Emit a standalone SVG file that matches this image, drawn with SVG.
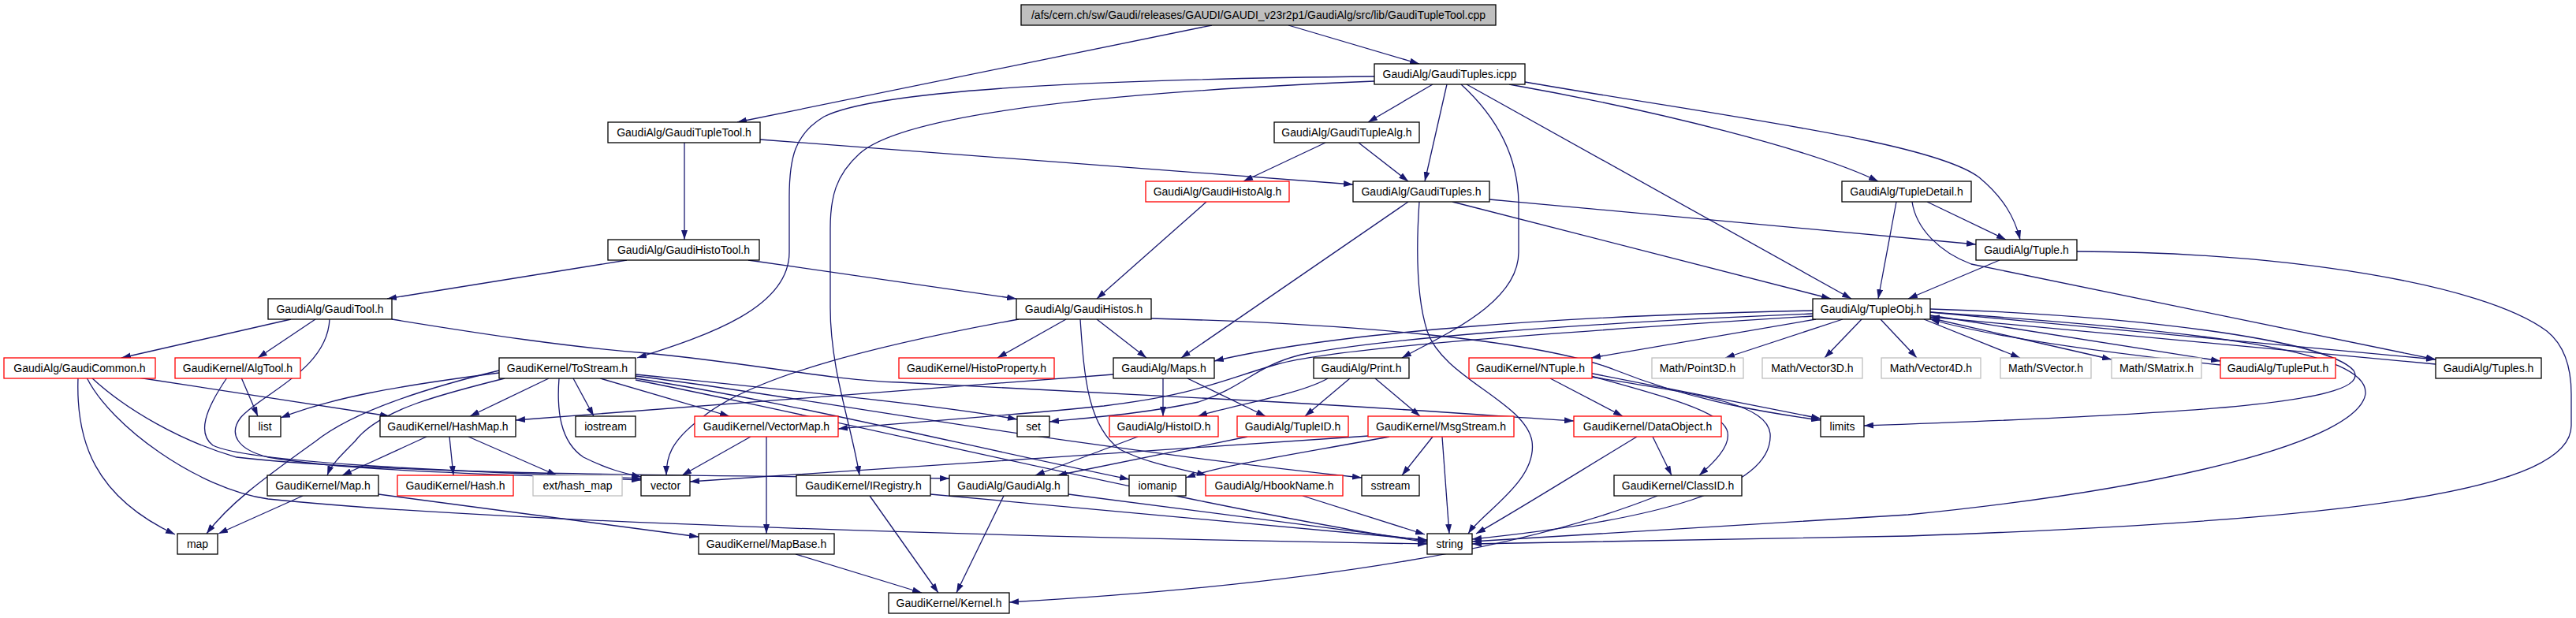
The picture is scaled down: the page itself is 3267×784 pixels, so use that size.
<svg xmlns="http://www.w3.org/2000/svg" width="3267" height="784" viewBox="0 0 3267 784">
<style>
.n rect{fill:#ffffff;stroke:#000000;stroke-width:1.3}
.n.red rect{stroke:#ff0000}
.n.grey rect{stroke:#bfbfbf}
.n.root rect{fill:#bfbfbf}
.n text{font-family:"Liberation Sans",Arial,sans-serif;font-size:14px;fill:#000000;text-anchor:middle}
#edges path{fill:none;stroke:#191970;stroke-width:1.3;marker-end:url(#ah)}
</style>
<defs>
<marker id="ah" markerUnits="userSpaceOnUse" markerWidth="12" markerHeight="8" refX="12" refY="4" orient="auto">
<path d="M0,0 L12,4 L0,8 z" fill="#191970"/>
</marker>
</defs>
<rect x="0" y="0" width="3267" height="784" fill="#ffffff"/>
<g id="edges">
<path d="M1537,32 L935,155"/>
<path d="M1634,32 L1800,81"/>
<path d="M1743,97 C1450,100 1120,110 1045,148 C1008,170 1001,200 1001,250 L1001,320 C1001,390 900,425 808,454"/>
<path d="M1743,103 C1450,115 1150,140 1090,195 C1060,222 1053,250 1053,290 L1053,390 C1053,470 1080,540 1090,603"/>
<path d="M1817,107 L1735,155"/>
<path d="M1835,107 L1807,230"/>
<path d="M1853,107 C1900,150 1926,200 1926,260 L1926,320 C1926,385 1830,425 1778,454"/>
<path d="M1860,107 L2348,379"/>
<path d="M1914,107 C2100,140 2300,190 2382,230"/>
<path d="M1934,104 C2200,150 2450,180 2510,225 C2540,250 2555,275 2562,304"/>
<path d="M868,181 L868,304"/>
<path d="M964,177 L1716,234"/>
<path d="M1681,181 L1577,230"/>
<path d="M1723,181 L1786,230"/>
<path d="M1530,256 L1391,379"/>
<path d="M1786,256 L1498,454"/>
<path d="M1800,256 C1797,300 1794,370 1810,420 C1830,480 1935,510 1943,560 C1950,610 1880,650 1862,677"/>
<path d="M1842,256 L2322,379"/>
<path d="M1889,253 L2506,310"/>
<path d="M2444,256 L2544,304"/>
<path d="M2405,256 L2382,379"/>
<path d="M2425,256 C2430,290 2460,320 2500,335 L3089,456"/>
<path d="M795,330 L491,379"/>
<path d="M949,330 L1289,379"/>
<path d="M2536,330 L2420,379"/>
<path d="M2634,319 C2900,320 3150,360 3230,420 C3255,440 3261,470 3261,500 L3261,540 C3261,620 3000,660 2420,680 L1867,690"/>
<path d="M369,405 L154,454"/>
<path d="M400,405 L327,454"/>
<path d="M418,405 C415,470 330,500 305,530 C290,550 300,570 340,580 C450,600 700,603 813,609"/>
<path d="M497,405 C620,425 720,440 820,448 C950,460 1050,482 1140,485 L1620,510 C1800,520 1900,528 1996,534"/>
<path d="M175,479 L494,528"/>
<path d="M99,479 C96,560 120,630 222,678"/>
<path d="M110,479 C140,540 250,620 340,633 C600,660 1200,680 1810,690"/>
<path d="M116,479 C160,520 230,560 300,580 C500,603 900,603 1204,607"/>
<path d="M306,479 L327,528"/>
<path d="M288,479 C260,520 250,550 270,565 C320,590 650,600 813,607"/>
<path d="M633,473 C500,490 420,505 356,530"/>
<path d="M696,480 L596,528"/>
<path d="M727,480 L753,528"/>
<path d="M761,480 L925,528"/>
<path d="M806,475 C1000,495 1200,515 1290,532"/>
<path d="M640,480 C560,500 480,520 450,560 C430,580 420,590 415,603"/>
<path d="M633,470 C550,490 450,520 400,560 C330,610 290,640 262,677"/>
<path d="M709,480 C706,520 710,560 740,580 C770,595 790,600 813,605"/>
<path d="M806,477 C1000,500 1300,560 1727,606"/>
<path d="M806,480 C1000,510 1200,560 1432,608"/>
<path d="M806,482 C1100,540 1500,640 1810,688"/>
<path d="M541,554 L434,603"/>
<path d="M570,554 L575,603"/>
<path d="M594,554 L706,603"/>
<path d="M384,629 L277,677"/>
<path d="M480,627 L886,681"/>
<path d="M952,554 L865,603"/>
<path d="M972,554 L972,677"/>
<path d="M1009,703 L1169,752"/>
<path d="M1103,629 L1190,752"/>
<path d="M1180,627 L1810,685"/>
<path d="M1273,629 L1213,752"/>
<path d="M1355,627 L1810,686"/>
<path d="M1443,554 L1313,603"/>
<path d="M1582,554 L1341,603"/>
<path d="M1652,629 L1807,678"/>
<path d="M1829,554 L1838,677"/>
<path d="M1817,554 L1778,603"/>
<path d="M1736,553 C1500,570 1100,595 875,611"/>
<path d="M1762,554 C1650,575 1550,590 1504,606"/>
<path d="M2076,554 C2000,600 1920,650 1872,677"/>
<path d="M2096,554 L2120,603"/>
<path d="M2102,629 C1950,690 1700,740 1280,764"/>
<path d="M1966,480 L2058,528"/>
<path d="M2010,475 C2100,500 2180,520 2190,545 C2198,565 2170,590 2155,603"/>
<path d="M2012,477 C2150,500 2240,510 2245,550 C2250,620 2100,660 1867,684"/>
<path d="M2015,473 L2309,531"/>
<path d="M1684,480 C1650,500 1560,515 1519,528"/>
<path d="M1712,480 L1655,528"/>
<path d="M1744,480 L1801,528"/>
<path d="M1475,480 L1475,528"/>
<path d="M1506,480 L1605,528"/>
<path d="M1412,475 L654,533"/>
<path d="M1352,405 L1265,454"/>
<path d="M1391,405 L1454,454"/>
<path d="M1292,405 C1100,440 950,480 890,530 C850,560 845,580 845,603"/>
<path d="M1370,405 C1375,480 1380,540 1420,570 C1460,590 1500,595 1530,603"/>
<path d="M1460,404 C1700,410 1950,430 2050,470 C2150,510 2250,525 2309,533"/>
<path d="M2337,405 L2188,454"/>
<path d="M2361,405 L2314,454"/>
<path d="M2385,405 L2431,454"/>
<path d="M2440,405 L2562,454"/>
<path d="M2446,403 L2678,456"/>
<path d="M2448,400 L2816,458"/>
<path d="M2448,396 L3089,456"/>
<path d="M3089,462 L2448,402"/>
<path d="M2816,463 C2600,440 2500,420 2448,405"/>
<path d="M2299,394 C2000,400 1700,420 1540,458"/>
<path d="M2299,398 C2000,410 1750,430 1650,450 C1590,465 1580,490 1520,510 C1450,525 1380,530 1331,535"/>
<path d="M2299,401 C2000,420 1700,440 1620,462 C1550,482 1520,500 1400,515 C1250,530 1100,540 1063,544"/>
<path d="M2303,405 L2018,454"/>
<path d="M2448,392 C2700,400 2950,430 2985,470 C3010,510 2800,525 2364,540"/>
<path d="M2448,396 C2800,420 3005,445 3000,500 C2990,560 2750,620 2420,653 L1867,687"/>
</g>
<g id="n_top" class="n root"><rect x="1295" y="6" width="602" height="26"/><text x="1596" y="24">/afs/cern.ch/sw/Gaudi/releases/GAUDI/GAUDI_v23r2p1/GaudiAlg/src/lib/GaudiTupleTool.cpp</text></g>
<g id="n_icpp" class="n"><rect x="1743" y="81" width="191" height="26"/><text x="1838.5" y="99">GaudiAlg/GaudiTuples.icpp</text></g>
<g id="n_gtt" class="n"><rect x="771" y="155" width="193" height="26"/><text x="867.5" y="173">GaudiAlg/GaudiTupleTool.h</text></g>
<g id="n_gta" class="n"><rect x="1616" y="155" width="184" height="26"/><text x="1708" y="173">GaudiAlg/GaudiTupleAlg.h</text></g>
<g id="n_gha" class="n red"><rect x="1453" y="230" width="182" height="26"/><text x="1544" y="248">GaudiAlg/GaudiHistoAlg.h</text></g>
<g id="n_gts" class="n"><rect x="1716" y="230" width="173" height="26"/><text x="1802.5" y="248">GaudiAlg/GaudiTuples.h</text></g>
<g id="n_td" class="n"><rect x="2336" y="230" width="164" height="26"/><text x="2418" y="248">GaudiAlg/TupleDetail.h</text></g>
<g id="n_ght" class="n"><rect x="771" y="304" width="192" height="26"/><text x="867" y="322">GaudiAlg/GaudiHistoTool.h</text></g>
<g id="n_tuple" class="n"><rect x="2506" y="304" width="128" height="26"/><text x="2570" y="322">GaudiAlg/Tuple.h</text></g>
<g id="n_gt" class="n"><rect x="340" y="379" width="157" height="26"/><text x="418.5" y="397">GaudiAlg/GaudiTool.h</text></g>
<g id="n_gh" class="n"><rect x="1289" y="379" width="171" height="26"/><text x="1374.5" y="397">GaudiAlg/GaudiHistos.h</text></g>
<g id="n_to" class="n"><rect x="2299" y="379" width="149" height="26"/><text x="2373.5" y="397">GaudiAlg/TupleObj.h</text></g>
<g id="n_gc" class="n red"><rect x="5" y="454" width="192" height="26"/><text x="101" y="472">GaudiAlg/GaudiCommon.h</text></g>
<g id="n_at" class="n red"><rect x="222" y="454" width="159" height="26"/><text x="301.5" y="472">GaudiKernel/AlgTool.h</text></g>
<g id="n_ts" class="n"><rect x="633" y="454" width="173" height="26"/><text x="719.5" y="472">GaudiKernel/ToStream.h</text></g>
<g id="n_hp" class="n red"><rect x="1140" y="454" width="197" height="26"/><text x="1238.5" y="472">GaudiKernel/HistoProperty.h</text></g>
<g id="n_maps" class="n"><rect x="1412" y="454" width="128" height="26"/><text x="1476" y="472">GaudiAlg/Maps.h</text></g>
<g id="n_print" class="n"><rect x="1666" y="454" width="121" height="26"/><text x="1726.5" y="472">GaudiAlg/Print.h</text></g>
<g id="n_nt" class="n red"><rect x="1863" y="454" width="156" height="26"/><text x="1941" y="472">GaudiKernel/NTuple.h</text></g>
<g id="n_p3" class="n grey"><rect x="2095" y="454" width="116" height="26"/><text x="2153" y="472">Math/Point3D.h</text></g>
<g id="n_v3" class="n grey"><rect x="2235" y="454" width="127" height="26"/><text x="2298.5" y="472">Math/Vector3D.h</text></g>
<g id="n_v4" class="n grey"><rect x="2386" y="454" width="126" height="26"/><text x="2449" y="472">Math/Vector4D.h</text></g>
<g id="n_sv" class="n grey"><rect x="2537" y="454" width="115" height="26"/><text x="2594.5" y="472">Math/SVector.h</text></g>
<g id="n_sm" class="n grey"><rect x="2678" y="454" width="114" height="26"/><text x="2735" y="472">Math/SMatrix.h</text></g>
<g id="n_tp" class="n red"><rect x="2816" y="454" width="146" height="26"/><text x="2889" y="472">GaudiAlg/TuplePut.h</text></g>
<g id="n_tuples" class="n"><rect x="3089" y="454" width="134" height="26"/><text x="3156" y="472">GaudiAlg/Tuples.h</text></g>
<g id="n_list" class="n"><rect x="316" y="528" width="40" height="26"/><text x="336" y="546">list</text></g>
<g id="n_hm" class="n"><rect x="482" y="528" width="172" height="26"/><text x="568" y="546">GaudiKernel/HashMap.h</text></g>
<g id="n_iostream" class="n"><rect x="730" y="528" width="76" height="26"/><text x="768" y="546">iostream</text></g>
<g id="n_vm" class="n red"><rect x="881" y="528" width="182" height="26"/><text x="972" y="546">GaudiKernel/VectorMap.h</text></g>
<g id="n_set" class="n"><rect x="1290" y="528" width="41" height="26"/><text x="1310.5" y="546">set</text></g>
<g id="n_hid" class="n red"><rect x="1407" y="528" width="138" height="26"/><text x="1476" y="546">GaudiAlg/HistoID.h</text></g>
<g id="n_tid" class="n red"><rect x="1569" y="528" width="141" height="26"/><text x="1639.5" y="546">GaudiAlg/TupleID.h</text></g>
<g id="n_ms" class="n red"><rect x="1735" y="528" width="185" height="26"/><text x="1827.5" y="546">GaudiKernel/MsgStream.h</text></g>
<g id="n_do" class="n red"><rect x="1996" y="528" width="187" height="26"/><text x="2089.5" y="546">GaudiKernel/DataObject.h</text></g>
<g id="n_limits" class="n"><rect x="2309" y="528" width="55" height="26"/><text x="2336.5" y="546">limits</text></g>
<g id="n_maph" class="n"><rect x="339" y="603" width="141" height="26"/><text x="409.5" y="621">GaudiKernel/Map.h</text></g>
<g id="n_hash" class="n red"><rect x="504" y="603" width="147" height="26"/><text x="577.5" y="621">GaudiKernel/Hash.h</text></g>
<g id="n_ehm" class="n grey"><rect x="676" y="603" width="113" height="26"/><text x="732.5" y="621">ext/hash_map</text></g>
<g id="n_vector" class="n"><rect x="813" y="603" width="62" height="26"/><text x="844" y="621">vector</text></g>
<g id="n_ireg" class="n"><rect x="1010" y="603" width="170" height="26"/><text x="1095" y="621">GaudiKernel/IRegistry.h</text></g>
<g id="n_ga" class="n"><rect x="1204" y="603" width="151" height="26"/><text x="1279.5" y="621">GaudiAlg/GaudiAlg.h</text></g>
<g id="n_iomanip" class="n"><rect x="1432" y="603" width="72" height="26"/><text x="1468" y="621">iomanip</text></g>
<g id="n_hn" class="n red"><rect x="1529" y="603" width="174" height="26"/><text x="1616" y="621">GaudiAlg/HbookName.h</text></g>
<g id="n_sstream" class="n"><rect x="1727" y="603" width="73" height="26"/><text x="1763.5" y="621">sstream</text></g>
<g id="n_cid" class="n"><rect x="2047" y="603" width="162" height="26"/><text x="2128" y="621">GaudiKernel/ClassID.h</text></g>
<g id="n_map" class="n"><rect x="225" y="677" width="51" height="26"/><text x="250.5" y="695">map</text></g>
<g id="n_mb" class="n"><rect x="886" y="677" width="172" height="26"/><text x="972" y="695">GaudiKernel/MapBase.h</text></g>
<g id="n_string" class="n"><rect x="1810" y="677" width="57" height="26"/><text x="1838.5" y="695">string</text></g>
<g id="n_kernel" class="n"><rect x="1127" y="752" width="153" height="26"/><text x="1203.5" y="770">GaudiKernel/Kernel.h</text></g>
</svg>
